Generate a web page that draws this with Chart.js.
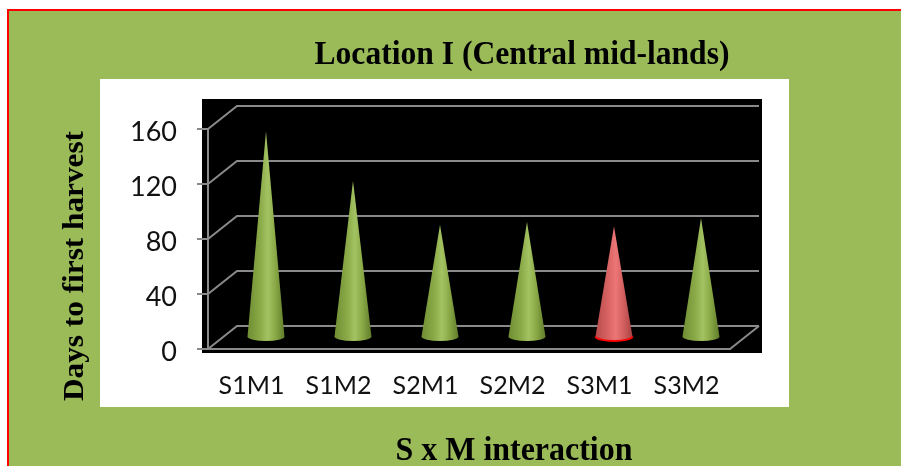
<!DOCTYPE html>
<html>
<head>
<meta charset="utf-8">
<title>Days to first harvest - Location I</title>
<script src="https://cdn.jsdelivr.net/npm/chart.js@4.4.1/dist/chart.umd.min.js"></script>
<style>
  html, body { margin: 0; padding: 0; background: #ffffff; }
  #wrap { position: relative; width: 901px; height: 466px; }
</style>
</head>
<body>
<div id="wrap"><canvas id="chart"></canvas></div>
<script>
// S x M treatment combinations and days to first harvest
const categories = ['S1M1', 'S1M2', 'S2M1', 'S2M2', 'S3M1', 'S3M2'];
const daysToFirstHarvest = [150, 114, 82, 84, 81, 87];
const yTickValues = [0, 40, 80, 120, 160];
const highlightCategory = 'S3M1';

const chartTitle = 'Location I (Central mid-lands)';
const xAxisTitle = 'S x M interaction';
const yAxisTitle = 'Days to first harvest';

// 3-D depth offset of the back wall
const DX = 29, DY = -23;
const GRID_COLOR = '#8a8a8a';
const SERIF = '"Liberation Serif", "Times New Roman", serif';
const SANS = 'Lato, "Noto Sans", sans-serif';

// Draw text fitted to a given width (condensed serif look)
function fittedText(ctx, text, font, x, y, width, angle) {
  ctx.save();
  ctx.font = font;
  ctx.fillStyle = '#000000';
  ctx.textAlign = 'center';
  ctx.textBaseline = 'alphabetic';
  const natural = ctx.measureText(text).width;
  ctx.translate(x, y);
  if (angle) ctx.rotate(angle);
  ctx.scale(width / natural, 1);
  ctx.fillText(text, 0, 0);
  ctx.restore();
}

const framePlugin = {
  id: 'frame3d',
  beforeDraw(chart) {
    const { ctx, chartArea: a, scales: { y } } = chart;
    ctx.save();
    // page panel
    ctx.fillStyle = '#9BBB59';
    ctx.fillRect(7, 9, chart.width, chart.height);
    ctx.strokeStyle = '#FF0000';
    ctx.lineWidth = 2;
    ctx.strokeRect(8, 10, chart.width + 20, chart.height + 20);
    // white chart box
    ctx.fillStyle = '#FFFFFF';
    ctx.fillRect(a.left - 108, a.top - 50, 689, 328);
    // black plot area
    ctx.fillStyle = '#000000';
    ctx.fillRect(a.left - 6, a.top + DY - 7, a.right - a.left + DX + 9, a.bottom - a.top - DY + 7 + 4);
    // back wall gridlines and side-wall diagonals
    ctx.strokeStyle = GRID_COLOR;
    ctx.lineWidth = 2;
    yTickValues.forEach(v => {
      const py = y.getPixelForValue(v);
      ctx.beginPath();
      ctx.moveTo(a.left, py);
      ctx.lineTo(a.left + DX, py + DY);
      ctx.lineTo(a.right + DX, py + DY);
      ctx.stroke();
    });
    // floor right edge
    const py0 = y.getPixelForValue(0);
    ctx.beginPath();
    ctx.moveTo(a.right, py0);
    ctx.lineTo(a.right + DX, py0 + DY);
    ctx.stroke();
    ctx.restore();
  },
  afterDatasetsDraw(chart) {
    const { ctx } = chart;
    const meta = chart.getDatasetMeta(0);
    ctx.save();
    meta.data.forEach((bar, i) => {
      const cx = bar.x + DX / 2;
      const base = bar.base + DY / 2;
      const tip = bar.y + DY / 2;
      const rx = bar.width / 2;
      const ry = rx * 0.24;
      const isRed = categories[i] === highlightCategory;
      const g = ctx.createLinearGradient(cx - rx, 0, cx + rx, 0);
      if (isRed) {
        g.addColorStop(0, '#B84A4A');
        g.addColorStop(0.35, '#D96464');
        g.addColorStop(0.55, '#EC7676');
        g.addColorStop(0.75, '#D46060');
        g.addColorStop(1, '#A84242');
      } else {
        g.addColorStop(0, '#6F8E33');
        g.addColorStop(0.35, '#8BAA48');
        g.addColorStop(0.55, '#A3C262');
        g.addColorStop(0.75, '#8AA946');
        g.addColorStop(1, '#5F7C2A');
      }
      ctx.beginPath();
      ctx.moveTo(cx, tip);
      ctx.lineTo(cx + rx, base);
      ctx.ellipse(cx, base, rx, ry, 0, 0, Math.PI);
      ctx.closePath();
      ctx.fillStyle = g;
      ctx.fill();
      if (isRed) {
        ctx.beginPath();
        ctx.ellipse(cx, base, rx, ry, 0, 0, Math.PI);
        ctx.strokeStyle = '#FF0000';
        ctx.lineWidth = 2;
        ctx.stroke();
      }
    });
    ctx.restore();
  },
  afterDraw(chart) {
    const { ctx } = chart;
    fittedText(ctx, chartTitle, 'bold 33px ' + SERIF, 522, 64, 415, 0);
    fittedText(ctx, xAxisTitle, 'bold 34px ' + SERIF, 514, 460, 237, 0);
    fittedText(ctx, yAxisTitle, 'bold 30px ' + SERIF, 83, 266, 270, -Math.PI / 2);
  }
};

new Chart(document.getElementById('chart'), {
  type: 'bar',
  data: {
    labels: categories,
    datasets: [{
      label: yAxisTitle,
      data: daysToFirstHarvest,
      backgroundColor: 'rgba(0,0,0,0)',
      borderWidth: 0,
      categoryPercentage: 1,
      barPercentage: 0.425
    }]
  },
  options: {
    responsive: true,
    maintainAspectRatio: false,
    animation: false,
    devicePixelRatio: 1,
    layout: { padding: { left: 0, top: 129, right: 171, bottom: 0 } },
    plugins: {
      legend: { display: false },
      title: { display: false },
      tooltip: { enabled: false }
    },
    scales: {
      x: {
        grid: { display: false },
        border: { display: true, color: GRID_COLOR, width: 2 },
        ticks: { color: '#111111', font: { family: SANS, size: 25 }, padding: 14, maxRotation: 0 },
        afterFit: s => { s.height = 117; }
      },
      y: {
        min: 0,
        max: 160,
        afterBuildTicks: s => { s.ticks = yTickValues.map(v => ({ value: v })); },
        grid: { drawOnChartArea: false, drawTicks: true, tickLength: 11, color: GRID_COLOR, lineWidth: 2 },
        border: { display: true, color: GRID_COLOR, width: 2 },
        ticks: { color: '#111111', font: { family: SANS, size: 27 }, padding: 20, labelOffset: 3 },
        afterFit: s => { s.width = 208; }
      }
    }
  },
  plugins: [framePlugin]
});
</script>
</body>
</html>
